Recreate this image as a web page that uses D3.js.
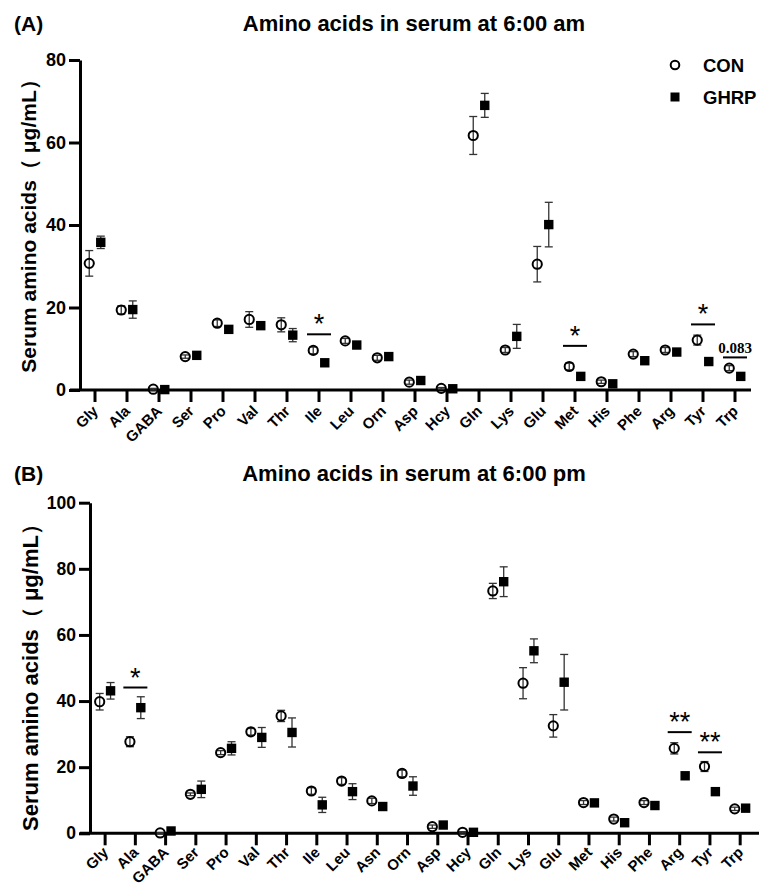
<!DOCTYPE html>
<html>
<head>
<meta charset="utf-8">
<script src="https://cdn.jsdelivr.net/npm/d3@7"></script>
<style>
  body { margin: 0; background: #fff; }
  svg text { font-family: "Liberation Sans", Arial, sans-serif; font-weight: bold; fill: #000; }
</style>
</head>
<body>
<svg id="chart" width="759" height="888"></svg>
<script>
// panel A: 6:00 am
const categoriesA = ["Gly","Ala","GABA","Ser","Pro","Val","Thr","Ile","Leu","Orn","Asp","Hcy","Gln","Lys","Glu","Met","His","Phe","Arg","Tyr","Trp"];
const conA     = [30.7, 19.4, 0.2, 8.1, 16.2, 17.1, 15.8, 9.6, 11.9, 7.8, 1.9, 0.4, 61.7, 9.7, 30.5, 5.7, 2.0, 8.7, 9.7, 12.1, 5.3];
const conErrA  = [3.1, 1.0, 0.2, 0.4, 0.8, 1.9, 1.7, 0.8, 0.6, 0.6, 0.5, 0.2, 4.6, 0.6, 4.3, 0.8, 0.4, 0.6, 0.6, 1.2, 0.6];
const ghrpA    = [35.8, 19.5, 0.1, 8.4, 14.7, 15.6, 13.3, 6.6, 10.9, 8.1, 2.3, 0.3, 69.0, 13.0, 40.1, 3.3, 1.5, 7.1, 9.2, 6.9, 3.3];
const ghrpErrA = [1.5, 2.1, 0.1, 0.5, 0.5, 0.6, 1.6, 0.4, 0.5, 0.5, 0.3, 0.1, 2.9, 2.9, 5.4, 0.4, 0.3, 0.4, 0.4, 0.5, 0.3];
const yTicksA  = [0, 20, 40, 60, 80];
const sigA = [
  { cat: "Ile", label: "*", level: 13.5 },
  { cat: "Met", label: "*", level: 10.7 },
  { cat: "Tyr", label: "*", level: 15.9 },
  { cat: "Trp", label: "0.083", level: 7.9 }
];

// panel B: 6:00 pm
const categoriesB = ["Gly","Ala","GABA","Ser","Pro","Val","Thr","Ile","Leu","Asn","Orn","Asp","Hcy","Gln","Lys","Glu","Met","His","Phe","Arg","Tyr","Trp"];
const conB     = [39.8, 27.7, 0.1, 11.8, 24.4, 30.7, 35.5, 12.8, 15.8, 9.8, 18.1, 2.0, 0.3, 73.3, 45.4, 32.5, 9.3, 4.3, 9.3, 25.7, 20.2, 7.4];
const conErrB  = [2.5, 1.5, 0.1, 0.4, 0.6, 1.0, 1.7, 1.0, 1.0, 0.8, 1.0, 0.5, 0.2, 2.3, 4.7, 3.4, 0.6, 0.6, 0.6, 1.7, 1.5, 0.5];
const ghrpB    = [43.1, 38.0, 0.7, 13.3, 25.7, 29.0, 30.5, 8.6, 12.6, 8.1, 14.3, 2.5, 0.3, 76.1, 55.2, 45.7, 9.2, 3.2, 8.4, 17.4, 12.6, 7.6];
const ghrpErrB = [2.5, 3.3, 0.3, 2.5, 2.0, 3.0, 4.4, 2.3, 2.4, 1.0, 2.8, 0.4, 0.2, 4.5, 3.6, 8.4, 0.4, 0.4, 0.4, 0.6, 0.5, 0.4];
const yTicksB  = [0, 20, 40, 60, 80, 100];
const sigB = [
  { cat: "Ala", label: "*", level: 44.1 },
  { cat: "Arg", label: "**", level: 30.6 },
  { cat: "Tyr", label: "**", level: 24.5 }
];

const groups = ["CON", "GHRP"];
const yLabel = "Serum amino acids\uFF08 \u03BCg/mL\uFF09";

const svg = d3.select("#chart");

function drawPanel(p) {
  const x = d3.scaleBand().domain(p.categories).range(p.xRange);
  const y = d3.scaleLinear().domain([0, p.yMax]).range(p.yRange);
  const half = x.bandwidth() / 2;
  const off = x.bandwidth() * 0.18;
  const g = svg.append("g");
  const base = p.yRange[0];

  // y axis
  const ya = g.append("g")
    .attr("transform", `translate(${p.axisX},0)`)
    .call(d3.axisLeft(y).tickValues(p.yTicks).tickSize(11).tickSizeOuter(0).tickPadding(3));
  ya.select(".domain").attr("stroke-width", 3);
  ya.selectAll(".tick line").attr("stroke-width", 3);
  ya.selectAll(".tick text").style("font-size", p.tickFont + "px");

  // x axis, labels slanted at -45deg
  const xa = g.append("g")
    .attr("transform", `translate(0,${base})`)
    .call(d3.axisBottom(x).tickSize(12).tickSizeOuter(0).tickFormat(""));
  xa.select(".domain").attr("d", `M${p.axisX - 10},0H${p.xEnd}`).attr("stroke-width", 3);
  xa.selectAll(".tick line").attr("stroke-width", 3);

  g.selectAll(".xlab").data(p.categories).enter()
    .append("text")
    .attr("class", "xlab")
    .attr("text-anchor", "end")
    .attr("transform", d => `translate(${x(d) + half + 4},${base + p.labelDrop}) rotate(-45)`)
    .style("font-size", "15px")
    .text(d => d);

  // axis title
  g.append("text")
    .attr("transform", `translate(${p.yLabelX},${p.yLabelY}) rotate(-90)`)
    .attr("text-anchor", "middle")
    .attr("dominant-baseline", "central")
    .style("font-size", p.yLabelFont + "px")
    .text(yLabel);

  // panel title and letter
  g.append("text").attr("x", 14).attr("y", p.titleY)
    .style("font-size", "21px").text(p.letter);
  g.append("text").attr("x", 414).attr("y", p.titleY)
    .attr("text-anchor", "middle")
    .style("font-size", "22px").text(p.title);

  const pts = p.categories.flatMap((c, i) => [
    { grp: "CON", v: p.con[i], e: p.conErr[i], cx: x(c) + half - off },
    { grp: "GHRP", v: p.ghrp[i], e: p.ghrpErr[i], cx: x(c) + half + off }
  ]);

  // error bars
  const eb = g.append("g").attr("stroke", "#333").attr("stroke-width", 1.3);
  pts.forEach(d => {
    eb.append("line").attr("x1", d.cx).attr("x2", d.cx)
      .attr("y1", y(d.v - d.e)).attr("y2", y(d.v + d.e));
    [d.v - d.e, d.v + d.e].forEach(t => {
      eb.append("line").attr("x1", d.cx - 4).attr("x2", d.cx + 4)
        .attr("y1", y(t)).attr("y2", y(t));
    });
  });

  // markers
  g.selectAll(".con").data(pts.filter(d => d.grp === "CON")).enter()
    .append("circle")
    .attr("cx", d => d.cx).attr("cy", d => y(d.v)).attr("r", 4.6)
    .attr("fill", "none").attr("stroke", "#000").attr("stroke-width", 2);
  g.selectAll(".ghrp").data(pts.filter(d => d.grp === "GHRP")).enter()
    .append("rect")
    .attr("x", d => d.cx - 4.7).attr("y", d => y(d.v) - 4.7)
    .attr("width", 9.4).attr("height", 9.4).attr("fill", "#000");

  // significance marks
  p.sig.forEach(s => {
    const c = x(s.cat) + half;
    const ly = y(s.level);
    g.append("line").attr("x1", c - 12).attr("x2", c + 12)
      .attr("y1", ly).attr("y2", ly)
      .attr("stroke", "#000").attr("stroke-width", 2);
    const isNum = s.label !== "*" && s.label !== "**";
    g.append("text").attr("x", c).attr("y", isNum ? ly - 4 : ly - 1)
      .attr("text-anchor", "middle")
      .style("font-family", isNum ? "'Liberation Serif', 'Times New Roman', serif" : null)
      .style("font-size", isNum ? "15px" : "27px")
      .style("font-weight", isNum ? "bold" : "normal")
      .text(s.label);
  });
  return { x, y, g };
}

drawPanel({
  categories: categoriesA, con: conA, conErr: conErrA, ghrp: ghrpA, ghrpErr: ghrpErrA,
  yMax: 80, yTicks: yTicksA, sig: sigA,
  xRange: [79, 751], yRange: [390, 60], axisX: 80, xEnd: 751,
  tickFont: 18, labelDrop: 22,
  yLabelX: 28, yLabelY: 221, yLabelFont: 21,
  letter: "(A)", title: "Amino acids in serum at 6:00 am", titleY: 31
});

drawPanel({
  categories: categoriesB, con: conB, conErr: conErrB, ghrp: ghrpB, ghrpErr: ghrpErrB,
  yMax: 100, yTicks: yTicksB, sig: sigB,
  xRange: [90, 755.3], yRange: [833.3, 502.7], axisX: 90, xEnd: 759,
  tickFont: 17.5, labelDrop: 20,
  yLabelX: 30, yLabelY: 672, yLabelFont: 22,
  letter: "(B)", title: "Amino acids in serum at 6:00 pm", titleY: 481
});

// legend (panel A only)
const legend = svg.append("g").attr("transform", "translate(675,65)");
groups.forEach((name, i) => {
  const row = legend.append("g").attr("transform", `translate(0,${i * 32})`);
  if (name === "CON") {
    row.append("circle").attr("r", 4.3).attr("fill", "none")
      .attr("stroke", "#000").attr("stroke-width", 2);
  } else {
    row.append("rect").attr("x", -4.5).attr("y", -4.5)
      .attr("width", 9).attr("height", 9).attr("fill", "#000");
  }
  row.append("text").attr("x", 28).attr("y", 0)
    .attr("dominant-baseline", "central")
    .style("font-size", "18.5px").text(name);
});
</script>
</body>
</html>
